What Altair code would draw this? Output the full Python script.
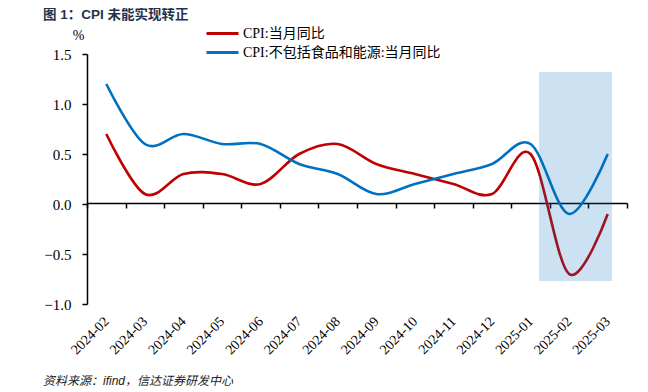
import altair as alt
import pandas as pd

# ---------------- data ----------------
months = ["2024-02", "2024-03", "2024-04", "2024-05", "2024-06", "2024-07", "2024-08",
          "2024-09", "2024-10", "2024-11", "2024-12", "2025-01", "2025-02", "2025-03"]
cpi_yoy = [0.7, 0.1, 0.3, 0.3, 0.2, 0.5, 0.6, 0.4, 0.3, 0.2, 0.1, 0.5, -0.7, -0.1]
core_cpi_yoy = [1.2, 0.6, 0.7, 0.6, 0.6, 0.4, 0.3, 0.1, 0.2, 0.3, 0.4, 0.6, -0.1, 0.5]
series_names = ["CPI:当月同比", "CPI:不包括食品和能源:当月同比"]
series_colors = ["#c00000", "#0070c0"]
y_ticks = [-1.0, -0.5, 0.0, 0.5, 1.0, 1.5]
# highlighted window (x in month-index units, y in %)
shade_x = [11.22, 13.11]
shade_y = [1.32, -0.77]

title_text = "图 1：CPI 未能实现转正"
source_text = "资料来源：ifind，信达证券研发中心"

# ---------------- tables ----------------
rows = []
for name, vals in zip(series_names, [cpi_yoy, core_cpi_yoy]):
    for i, (m, v) in enumerate(zip(months, vals)):
        rows.append({"idx": i, "month": m, "series": name, "value": v})
df = pd.DataFrame(rows)
shade_df = pd.DataFrame({"x": [shade_x[0]], "x2": [shade_x[1]],
                         "y": [shade_y[0]], "y2": [shade_y[1]]})
src_df = pd.DataFrame({"t": [source_text]})
ttl_df = pd.DataFrame({"t": [title_text]})

SERIF = "Liberation Serif, Noto Sans CJK SC"
SANS = "Liberation Sans, Noto Sans CJK SC"
n = len(months)

x_band = alt.Scale(domain=months, paddingInner=0, paddingOuter=0)
x_num = alt.Scale(domain=[-0.5, n - 0.5], nice=False, zero=False)
y_scale = alt.Scale(domain=[-1.0, 1.5], nice=False, zero=False)

x_axis = alt.Axis(
    orient="bottom", offset=-101, tickBand="extent",
    labelAngle=-45, labelAlign="right", labelBaseline="middle", labelPadding=111,
    labelFont=SERIF, labelFontSize=14, labelColor="#000000",
    labelOverlap=False, labelFlush=False,
    ticks=True, tickSize=5, tickWidth=1.5, tickColor="#000000", tickOpacity=1,
    domainColor="#000000", domainWidth=1.5, grid=False, title=None,
)
y_axis = alt.Axis(
    values=y_ticks, format=".1f", tickSize=5, tickWidth=1.5, tickColor="#000000",
    labelPadding=11, labelFont=SERIF, labelFontSize=15, labelColor="#000000",
    domainColor="#000000", domainWidth=1.5, grid=False,
    title="%", titleAngle=0, titleX=-9, titleY=-15, titleAlign="center",
    titleBaseline="alphabetic", titleFont=SERIF, titleFontSize=14,
    titleFontWeight="normal", titleColor="#000000",
)

lines = alt.Chart(df).mark_line(interpolate="cardinal", strokeWidth=2.6).encode(
    x=alt.X("month:O", scale=x_band, axis=x_axis, sort=months),
    y=alt.Y("value:Q", scale=y_scale, axis=y_axis),
    color=alt.Color(
        "series:N",
        scale=alt.Scale(domain=series_names, range=series_colors),
        legend=alt.Legend(
            orient="none", legendX=124, legendY=-32, title=None, direction="vertical",
            symbolType="M-1.6,0H1.6", symbolStrokeWidth=3, symbolSize=400,
            labelFont=SERIF, labelFontSize=14, labelColor="#000000",
            labelOffset=9, rowPadding=0, padding=0, labelLimit=400,
        ),
    ),
    order=alt.Order("idx:Q"),
)

shade = alt.Chart(shade_df).mark_rect(color="#0070c0", opacity=0.2).encode(
    x=alt.X("x:Q", scale=x_num, axis=None), x2="x2:Q",
    y=alt.Y("y:Q", scale=y_scale), y2="y2:Q",
)

source = alt.Chart(src_df).mark_text(
    align="left", baseline="alphabetic", font=SANS,
    fontStyle="italic", fontSize=12, color="#222222",
).encode(x=alt.value(-44), y=alt.value(331), text="t:N")

title = alt.Chart(ttl_df).mark_text(
    align="left", baseline="alphabetic", font=SANS,
    fontWeight="bold", fontSize=13.5, color="#1f3350",
).encode(x=alt.value(-44), y=alt.value(-35), text="t:N")

chart = alt.layer(lines, shade, source, title).resolve_scale(x="independent").properties(
    width=540, height=250,
    padding={"left": 79, "top": 46, "right": 13, "bottom": 88},
    autosize=alt.AutoSizeParams(type="none"),
).configure_view(stroke=None)

chart.save("out.html", embed_options={"renderer": "svg", "actions": False})
